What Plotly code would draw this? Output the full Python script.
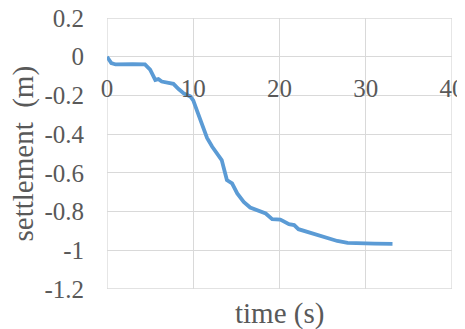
import plotly.graph_objects as go

time_s = [0, 0.5, 1.0, 2.0, 3.0, 4.4, 5.0, 5.6, 5.96, 6.35, 7.1, 7.7, 8.3, 8.9, 9.65, 10.0,
          10.4, 11.0, 11.6, 12.2, 12.6, 13.3, 13.9, 14.5, 15.1, 15.85, 16.6, 17.6, 18.4,
          19.15, 20.1, 21.1, 21.7, 22.2, 23.2, 24.4, 25.5, 26.7, 27.9, 29.0, 31.0, 33.1]
settlement_m = [0, -0.033, -0.04, -0.038, -0.038, -0.04, -0.067, -0.12, -0.116, -0.128, -0.136,
                -0.14, -0.167, -0.19, -0.205, -0.226, -0.275, -0.344, -0.42, -0.465, -0.49,
                -0.534, -0.637, -0.654, -0.706, -0.75, -0.779, -0.796, -0.81, -0.839, -0.841,
                -0.865, -0.87, -0.891, -0.905, -0.922, -0.94, -0.952, -0.962, -0.965, -0.966,
                -0.967]

x_ticks = [0, 10, 20, 30, 40]
x_tick_labels = ["0", "10", "20", "30", "40"]
y_ticks = [0.2, 0, -0.2, -0.4, -0.6, -0.8, -1, -1.2]
y_tick_labels = ["0.2", "0", "-0.2", "-0.4", "-0.6", "-0.8", "-1", "-1.2"]

FONT = "Liberation Serif, Times New Roman, serif"
GRAY = "#595959"
GRID = "#d9d9d9"

fig = go.Figure()
fig.add_trace(go.Scatter(x=time_s, y=settlement_m, mode="lines",
                         line=dict(color="#5b9bd5", width=3.8), hoverinfo="skip"))

y_min, y_max = -1.2, 0.2
fig.update_layout(
    width=465, height=321,
    margin=dict(l=99, r=21, t=10, b=40, autoexpand=False),
    paper_bgcolor="white", plot_bgcolor="white",
    showlegend=False,
    font=dict(family=FONT, color=GRAY, size=25),
    xaxis=dict(range=[0, 40], tickvals=x_ticks, ticktext=x_tick_labels,
               showgrid=True, gridcolor=GRID, gridwidth=1.3, zeroline=False,
               showline=False, ticks="", anchor="free", automargin=False,
               position=(0 - y_min) / (y_max - y_min),
               ticklabelstandoff=14, ticklabeloverflow="allow",
               tickfont=dict(family=FONT, size=25, color=GRAY)),
    yaxis=dict(range=[y_min, y_max], tickvals=y_ticks, ticktext=y_tick_labels,
               showgrid=True, gridcolor=GRID, gridwidth=1.3, zeroline=False,
               showline=False, ticks="", ticklabelstandoff=22, automargin=False,
               ticklabeloverflow="allow",
               tickfont=dict(family=FONT, size=25, color=GRAY)),
)
fig.add_shape(type="rect", xref="x", yref="y", x0=0, x1=40, y0=y_min, y1=y_max,
              line=dict(color=GRID, width=1.3), layer="below")
fig.add_annotation(text="time (s)", xref="paper", yref="paper", x=0.5, y=0,
                   yshift=-24, yanchor="middle", showarrow=False,
                   font=dict(family=FONT, size=29, color=GRAY))
fig.add_annotation(text="settlement  (m)", xref="paper", yref="paper", x=0, y=0.5,
                   xshift=-84, textangle=-90, xanchor="center", showarrow=False,
                   font=dict(family=FONT, size=29, color=GRAY))

fig.write_html("out.html")
